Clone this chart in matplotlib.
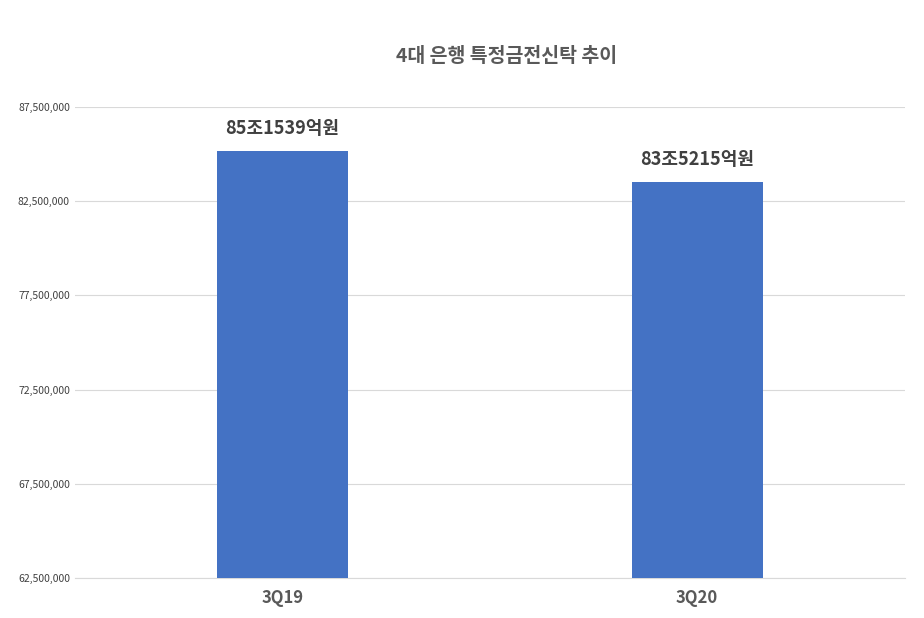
import matplotlib
matplotlib.use("Agg")
import matplotlib.pyplot as plt
from matplotlib.ticker import FuncFormatter

plt.rcParams['font.family'] = ['Noto Sans CJK KR', 'DejaVu Sans']

categories = ["3Q19", "3Q20"]
values = [85153900, 83521500]
labels = ["85조1539억원", "83조5215억원"]
yticks = [62500000, 67500000, 72500000, 77500000, 82500000, 87500000]

fig = plt.figure(figsize=(9.24, 6.18), dpi=100)
ax = fig.add_axes([0.081, 0.0647, 0.898, 0.7623])

x = range(len(categories))
ax.bar(x, values, width=0.315, color="#4472C4", zorder=3)
for i, v in enumerate(values):
    ax.text(i, v + 700000, labels[i], ha="center", va="bottom",
            fontsize=13, fontweight="bold", color="#404040")

ax.set_xlim(-0.5, 1.5)
ax.set_ylim(62500000, 87500000)
ax.set_yticks(yticks)
ax.yaxis.set_major_formatter(FuncFormatter(lambda v, p: f"{int(v):,}"))
ax.set_xticks(list(x))
ax.set_xticklabels(categories, fontsize=12, fontweight="bold", color="#595959")
ax.tick_params(axis="y", labelsize=7.5, colors="#404040", length=0)
ax.tick_params(axis="x", length=0, pad=8)
ax.grid(axis="y", color="#D9D9D9", linewidth=0.8, zorder=0)
for s in ["top", "right", "left"]:
    ax.spines[s].set_visible(False)
ax.spines["bottom"].set_color("#D9D9D9")

fig.text(0.548, 0.908, "4대 은행 특정금전신탁 추이", ha="center", va="center",
         fontsize=14, fontweight="bold", color="#595959")

fig.savefig("out.png")
